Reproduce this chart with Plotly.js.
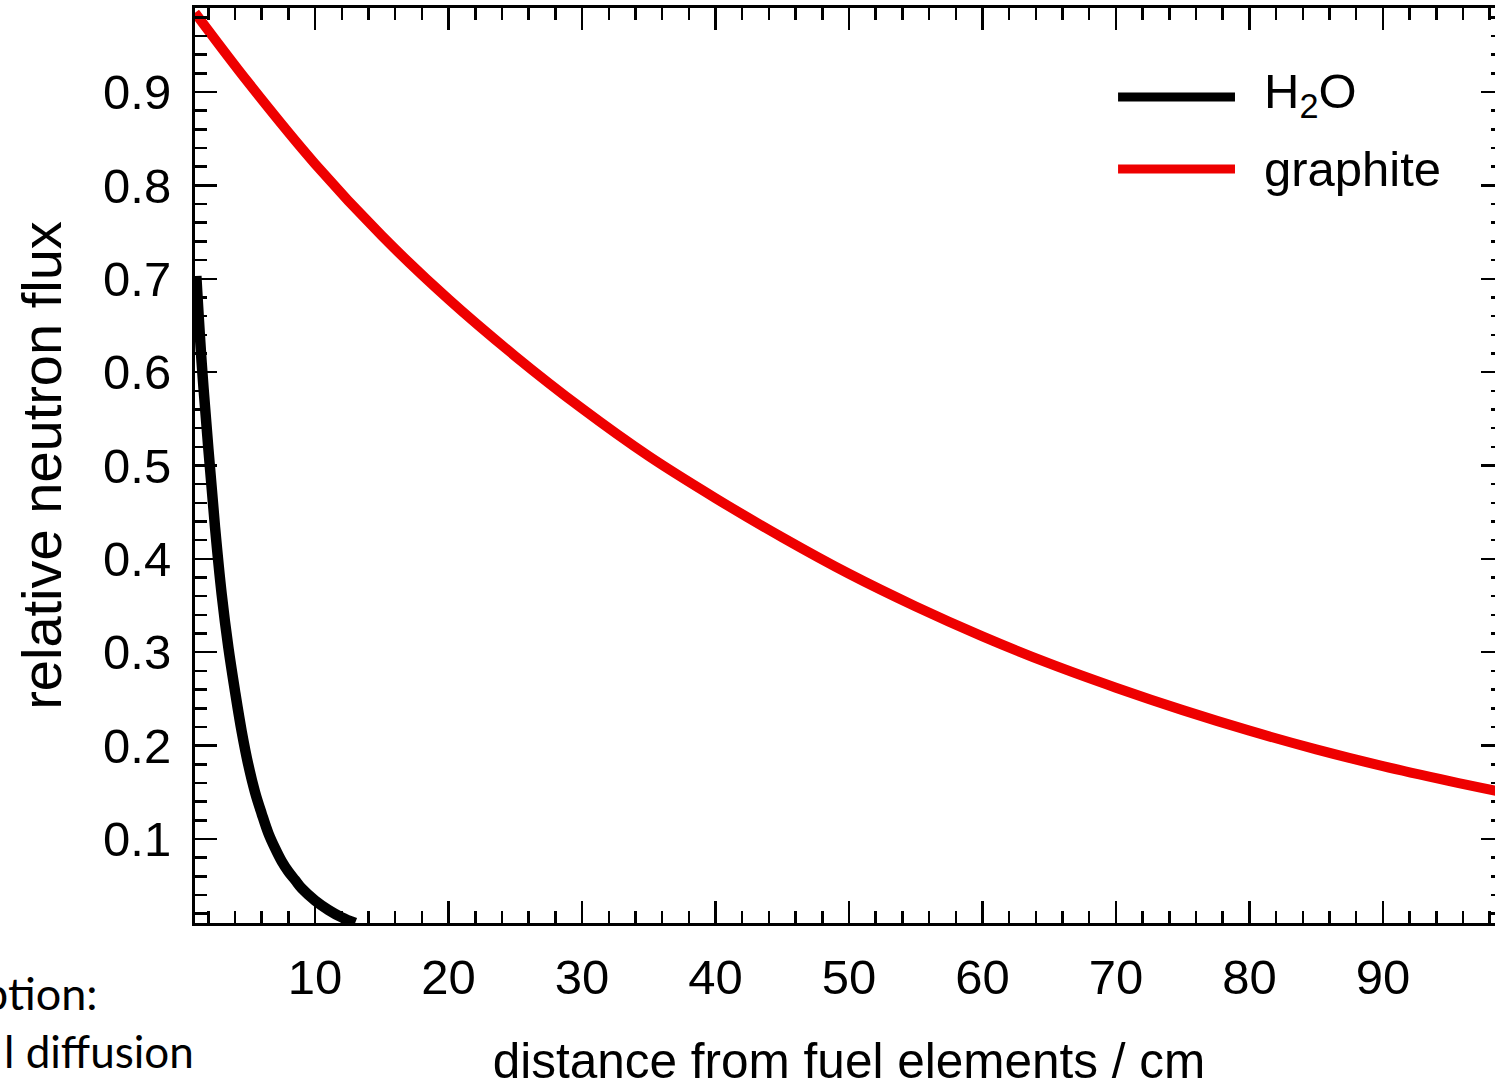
<!DOCTYPE html>
<html>
<head>
<meta charset="utf-8">
<script src="https://cdn.plot.ly/plotly-3.0.1.min.js"></script>
<style>
  html, body { margin: 0; padding: 0; overflow: hidden; background: #fff; }
  #chart { width: 1510px; height: 1088px; }
</style>
</head>
<body>
<div id="chart"></div>
<script>
// distance from fuel elements / cm
const h2oX = [1.1, 1.5, 2.0, 2.5, 3.0, 3.5, 4.0, 4.5, 5.0, 5.5, 6.0, 6.5, 7.0, 7.5, 8.0, 8.5, 9.0, 10.0, 11.0, 12.0, 13.0];
const h2oY = [0.703, 0.610, 0.518, 0.434, 0.362, 0.305, 0.258, 0.215, 0.179, 0.150, 0.127, 0.106, 0.090, 0.076, 0.065, 0.056, 0.047, 0.034, 0.024, 0.016, 0.010];

const graphiteX = [1, 5, 10, 15, 20, 25, 30, 35, 40, 45, 50, 55, 60, 65, 70, 75, 80, 85, 90, 95, 99];
const graphiteY = [0.985, 0.910, 0.823, 0.746, 0.678, 0.617, 0.561, 0.510, 0.465, 0.423, 0.384, 0.349, 0.317, 0.288, 0.262, 0.238, 0.216, 0.196, 0.178, 0.162, 0.150];

const seriesNames = ["H<sub>2</sub>O", "graphite"];
const seriesColors = ["#000000", "#ee0000"];

const xTitle = "distance from fuel elements / cm";
const yTitle = "relative neutron flux";
const sideTexts = ["ption:", "l diffusion"];

const FONT = "Liberation Sans, Arial, sans-serif";

const traces = [
  { x: h2oX, y: h2oY, type: "scatter", mode: "lines", name: seriesNames[0],
    line: { color: seriesColors[0], width: 10.5, shape: "spline", smoothing: 1 }, showlegend: false },
  { x: graphiteX, y: graphiteY, type: "scatter", mode: "lines", name: seriesNames[1],
    line: { color: seriesColors[1], width: 10, shape: "spline", smoothing: 1 }, showlegend: false }
];

const axisCommon = {
  ticks: "inside", ticklen: 22, tickwidth: 2.5, tickcolor: "#000",
  showline: true, linewidth: 3, linecolor: "#000", mirror: "ticks",
  showgrid: false, zeroline: false,
  tickfont: { family: FONT, size: 49, color: "#000" }
};

const layout = {
  width: 1510, height: 1088,
  margin: { l: 195, r: 7, t: 8, b: 165 },
  paper_bgcolor: "#fff", plot_bgcolor: "#fff",
  showlegend: false,
  xaxis: Object.assign({}, axisCommon, {
    range: [1, 99], tick0: 0, dtick: 10,
    ticklabelstandoff: 9,
    minor: { tick0: 0, dtick: 2, ticks: "inside", ticklen: 12, tickwidth: 2.5, tickcolor: "#000" },
    title: { text: xTitle, font: { family: FONT, size: 49.5, color: "#000" }, standoff: 52 }
  }),
  yaxis: Object.assign({}, axisCommon, {
    range: [0.01, 0.99], tick0: 0, dtick: 0.1,
    ticklabelstandoff: 11,
    minor: { tick0: 0, dtick: 0.02, ticks: "inside", ticklen: 12, tickwidth: 2.5, tickcolor: "#000" },
    title: { text: yTitle, font: { family: FONT, size: 56, color: "#000" }, standoff: 24 }
  }),
  shapes: [
    { type: "line", xref: "paper", yref: "paper", x0: 0.7057, x1: 0.7951, y0: 0.9027, y1: 0.9027,
      line: { color: seriesColors[0], width: 9 } },
    { type: "line", xref: "paper", yref: "paper", x0: 0.7057, x1: 0.7951, y0: 0.8240, y1: 0.8240,
      line: { color: seriesColors[1], width: 9 } }
  ],
  annotations: [
    { text: seriesNames[0], xref: "paper", yref: "paper", x: 0.8157, y: 0.905, xanchor: "left", yanchor: "middle",
      showarrow: false, font: { family: FONT, size: 49, color: "#000" } },
    { text: seriesNames[1], xref: "paper", yref: "paper", x: 0.8157, y: 0.824, xanchor: "left", yanchor: "middle",
      showarrow: false, font: { family: FONT, size: 49, color: "#000" } },
    { text: sideTexts[0], xref: "paper", yref: "paper", x: -0.0726, y: -0.0765, xanchor: "right", yanchor: "middle",
      showarrow: false, font: { family: "Lato, Open Sans, sans-serif", size: 45, color: "#000" } },
    { text: sideTexts[1], xref: "paper", yref: "paper", x: 0.0005, y: -0.1399, xanchor: "right", yanchor: "middle",
      showarrow: false, font: { family: "Lato, Open Sans, sans-serif", size: 44, color: "#000" } }
  ]
};

Plotly.newPlot("chart", traces, layout, { displayModeBar: false, staticPlot: true });
</script>
</body>
</html>
